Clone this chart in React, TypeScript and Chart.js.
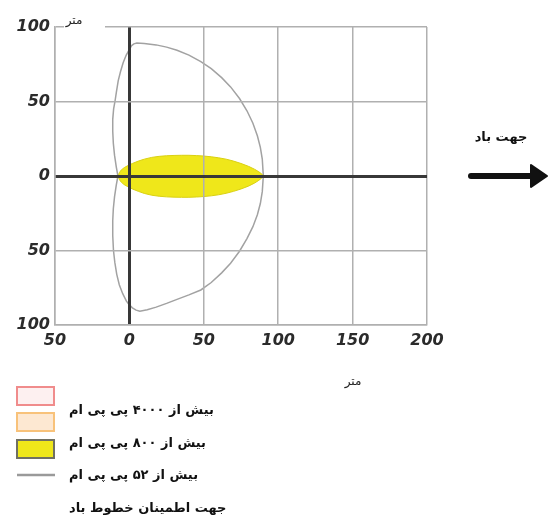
import React, { useEffect, useRef } from "react";
import { Chart, registerables } from "chart.js";

Chart.register(...registerables);

// ---- data ----
const xTicks = [-50, 0, 50, 100, 150, 200];
const yTicks = [-100, -50, 0, 50, 100];

// outer contour: > 52 ppm (closed loop)
const contour52X = [
  -7.7, -8.8, -10, -10.8, -11.2, -11.2, -10.6, -9.7, -8.8, -7.5, -6, -4.2, -2.2, 0, 1.5, 3, 5,
  10, 18, 25, 32, 40, 48, 55, 62, 68, 74, 79, 83, 86, 88, 89.3, 90,
  89.3, 88, 86, 83, 79, 74, 68, 62, 55, 48, 40, 32, 25, 18, 12, 7,
  4.5, 2, 0, -2, -4.5, -6.8, -8.5, -9.8, -10.7, -11.2, -11.2, -10.8, -10, -8.8, -7.7,
];
const contour52Y = [
  0, 6, 14, 22, 30, 38, 45, 50, 56, 64, 70, 76, 81, 85, 87.5, 88.7, 89.2,
  88.9, 88, 86.5, 84.4, 81.1, 76.8, 72, 66, 59.8, 52, 43.8, 35.4, 27, 19.2, 11.4, 0,
  -10.5, -18.5, -26, -34, -42, -50.5, -58.5, -65, -71.5, -76.5, -79.8, -82.8, -85.5, -88, -89.8, -90.8,
  -90, -88.5, -86.5, -84, -79, -73, -66, -58, -50, -40, -30, -22, -14, -6, 0,
];

// inner contour: > 800 ppm (closed filled shape)
const contour800X = [
  -7.5, -6.8, -5.5, -3.5, -1, 2, 6, 10, 15, 20, 25, 30, 35, 40, 45, 50, 55, 60, 65, 70, 75, 80, 84, 87, 89, 90,
  89, 87, 84, 80, 75, 70, 65, 60, 55, 50, 45, 40, 35, 30, 25, 20, 15, 10, 6, 2, -1, -3.5, -5.5, -6.8, -7.5,
];
const contour800Y = [
  0, 2.2, 4, 5.6, 7, 8.4, 10, 11.3, 12.5, 13.2, 13.6, 13.8, 13.9, 13.9, 13.7, 13.4, 12.9, 12.2, 11.3, 10, 8.4, 6.5, 4.6, 2.8, 1.3, 0,
  -1.3, -2.9, -4.8, -6.8, -8.7, -10.3, -11.6, -12.6, -13.3, -13.8, -14.1, -14.3, -14.3, -14.2, -14, -13.6, -12.9, -11.7, -10.3, -8.7, -7.2, -5.8, -4.1, -2.3, 0,
];

const legendLabels = [
  "بیش از ۴۰۰۰ پی پی ام",
  "بیش از ۸۰۰ پی پی ام",
  "بیش از ۵۲ پی پی ام",
  "جهت اطمینان خطوط باد",
];
const windLabel = "جهت باد";
const unitLabel = "متر";

const toPoints = (xs: number[], ys: number[]) => xs.map((x, i) => ({ x, y: ys[i] }));

const tickFont = { family: "'DejaVu Sans', Verdana, sans-serif", size: 16, weight: "bold" as const, style: "italic" as const };
const gridColor = "#b0b0b0";
const axisColor = "#383838";

const overlay = {
  id: "overlay",
  afterDraw(chart: any) {
    const ctx: CanvasRenderingContext2D = chart.ctx;
    ctx.save();
    // gap in the top border where the unit label sits
    ctx.fillStyle = "#ffffff";
    ctx.fillRect(64, 24, 41, 6);

    ctx.fillStyle = "#222";
    ctx.font = "12px 'DejaVu Sans'";
    ctx.textAlign = "center";
    ctx.textBaseline = "middle";
    ctx.direction = "rtl";
    ctx.fillText(unitLabel, 74, 21);
    ctx.fillText(unitLabel, 353, 382);

    // legend swatches
    ctx.lineWidth = 2;
    ctx.fillStyle = "#fdf0f0";
    ctx.strokeStyle = "#f08c8c";
    ctx.fillRect(17, 387, 37, 18);
    ctx.strokeRect(17, 387, 37, 18);
    ctx.fillStyle = "#fde8d2";
    ctx.strokeStyle = "#f8c27a";
    ctx.fillRect(17, 413, 37, 18);
    ctx.strokeRect(17, 413, 37, 18);
    ctx.fillStyle = "#efe71a";
    ctx.strokeStyle = "#707062";
    ctx.fillRect(17, 440, 37, 18);
    ctx.strokeRect(17, 440, 37, 18);
    ctx.strokeStyle = "#9a9a9a";
    ctx.lineWidth = 2.5;
    ctx.beginPath();
    ctx.moveTo(17, 475);
    ctx.lineTo(55, 475);
    ctx.stroke();

    // legend texts
    ctx.fillStyle = "#111";
    ctx.font = "bold 13px 'DejaVu Sans'";
    ctx.textAlign = "left";
    ctx.textBaseline = "alphabetic";
    const ys = [414, 447, 479, 512];
    legendLabels.forEach((t, i) => ctx.fillText(t, 69, ys[i]));

    // wind direction
    ctx.font = "bold 13px 'DejaVu Sans'";
    ctx.textAlign = "center";
    ctx.fillText(windLabel, 501, 141);
    ctx.strokeStyle = "#111";
    ctx.lineWidth = 6;
    ctx.lineCap = "round";
    ctx.beginPath();
    ctx.moveTo(471, 176);
    ctx.lineTo(533, 176);
    ctx.stroke();
    ctx.fillStyle = "#111";
    ctx.lineJoin = "round";
    ctx.lineWidth = 2;
    ctx.beginPath();
    ctx.moveTo(531, 165);
    ctx.lineTo(547, 176);
    ctx.lineTo(531, 187);
    ctx.closePath();
    ctx.fill();
    ctx.stroke();
    ctx.restore();
  },
};

export default function App() {
  const ref = useRef<HTMLCanvasElement>(null);
  useEffect(() => {
    if (!ref.current) return;
    const chart = new Chart(ref.current, {
      type: "scatter",
      data: {
        datasets: [
          {
            label: legendLabels[1],
            data: toPoints(contour800X, contour800Y),
            showLine: true,
            fill: "shape",
            backgroundColor: "#efe71a",
            borderColor: "#d9d012",
            borderWidth: 1,
            pointRadius: 0,
            tension: 0,
          } as any,
          {
            label: legendLabels[2],
            data: toPoints(contour52X, contour52Y),
            showLine: true,
            fill: false,
            borderColor: "#a2a2a2",
            borderWidth: 1.5,
            pointRadius: 0,
            tension: 0,
          } as any,
        ],
      },
      options: {
        animation: false,
        responsive: false,
        layout: { padding: { top: 27, right: 123, left: 0, bottom: 0 } },
        plugins: { legend: { display: false }, tooltip: { enabled: false } },
        scales: {
          x: {
            type: "linear",
            min: -50,
            max: 200,
            afterFit: (s: any) => {
              s.height = 196;
            },
            afterBuildTicks: (s: any) => {
              s.ticks = xTicks.map((v) => ({ value: v }));
            },
            ticks: {
              padding: 6,
              color: "#2b2b2b",
              font: tickFont,
              maxRotation: 0,
              autoSkip: false,
              callback: (v: any) => String(Math.abs(Number(v))),
            },
            grid: {
              z: 1,
              drawTicks: false,
              color: (c: any) => (c.tick && c.tick.value === 0 ? axisColor : gridColor),
              lineWidth: (c: any) => (c.tick && c.tick.value === 0 ? 3 : 1.5),
            },
            border: { color: gridColor, width: 1.5, z: 1 },
          } as any,
          y: {
            type: "linear",
            min: -100,
            max: 100,
            afterFit: (s: any) => {
              s.width = 55;
            },
            afterBuildTicks: (s: any) => {
              s.ticks = yTicks.map((v) => ({ value: v }));
            },
            ticks: {
              padding: 5,
              color: "#2b2b2b",
              font: tickFont,
              autoSkip: false,
              callback: (v: any) => String(Math.abs(Number(v))),
            },
            grid: {
              z: 1,
              drawTicks: false,
              color: (c: any) => (c.tick && c.tick.value === 0 ? axisColor : gridColor),
              lineWidth: (c: any) => (c.tick && c.tick.value === 0 ? 3 : 1.5),
            },
            border: { color: gridColor, width: 1.5, z: 1 },
          } as any,
        },
      },
      plugins: [overlay],
    });
    return () => chart.destroy();
  }, []);
  return (
    <div style={{ position: "absolute", left: 0, top: 0, width: 550, height: 521, background: "#fff" }}>
      <canvas ref={ref} width={550} height={521} style={{ display: "block" }} />
    </div>
  );
}
